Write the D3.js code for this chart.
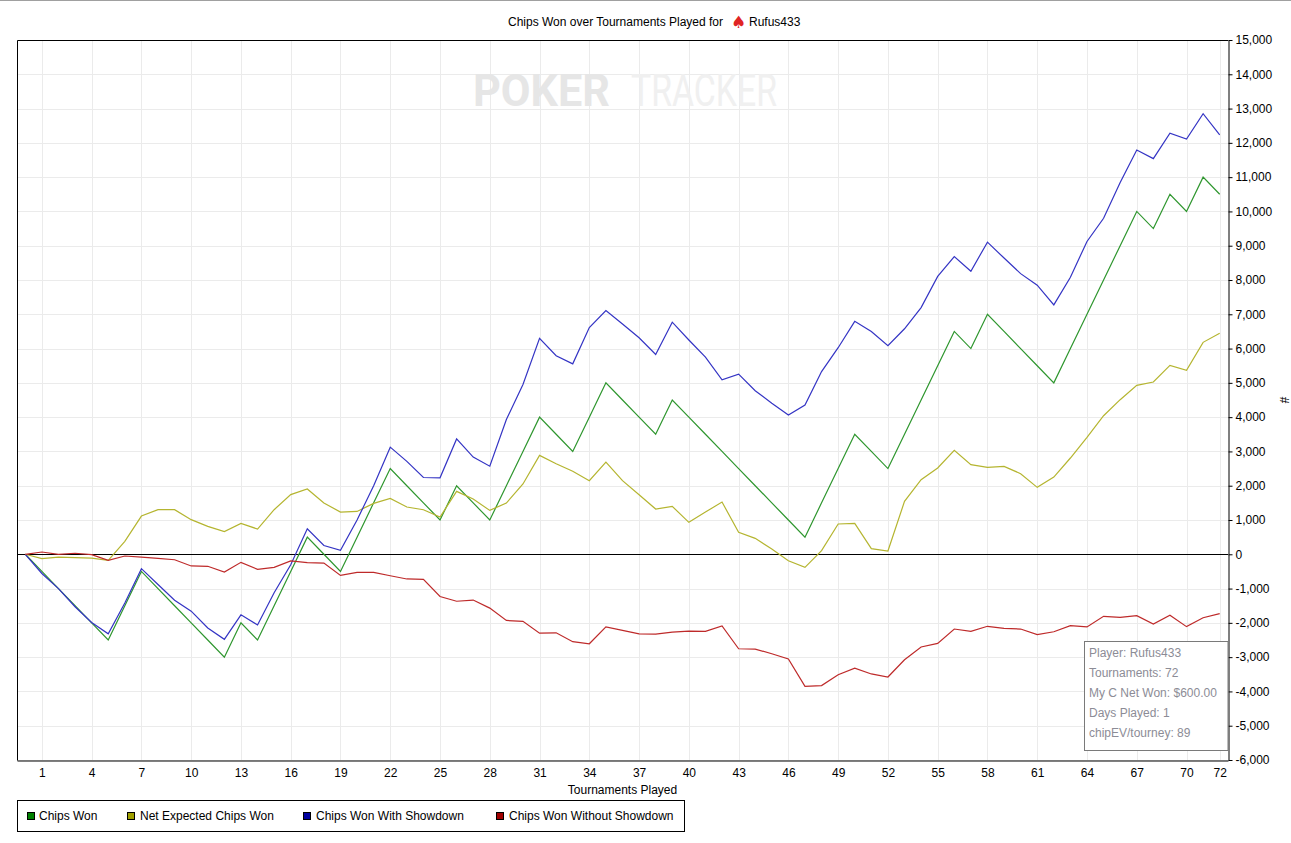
<!DOCTYPE html>
<html>
<head>
<meta charset="utf-8">
<script src="https://cdn.jsdelivr.net/npm/d3@7"></script>
<style>
  body { margin: 0; background: #fff; }
  text { font-family: "Liberation Sans", Arial, sans-serif; }
</style>
</head>
<body>
<div id="chart"></div>
<script>
// tournaments 0..72, one value per tournament (cumulative)
var chipsWon = [0, -500, -1000, -1500, -2000, -2500, -1500, -500, -1000, -1500,
	-2000, -2500, -3000, -2000, -2500, -1500, -500, 500, 0, -500,
	500, 1500, 2500, 2000, 1500, 1000, 2000, 1500, 1000, 2000,
	3000, 4000, 3500, 3000, 4000, 5000, 4500, 4000, 3500, 4500,
	4000, 3500, 3000, 2500, 2000, 1500, 1000, 500, 1500, 2500,
	3500, 3000, 2500, 3500, 4500, 5500, 6500, 6000, 7000, 6500,
	6000, 5500, 5000, 6000, 7000, 8000, 9000, 10000, 9500, 10500,
	10000, 11000, 10500];
var netExpected = [0, -128, -80, -100, -110, -177, 377, 1115, 1300, 1300,
	1010, 815, 660, 900, 737, 1300, 1740, 1905, 1495, 1232,
	1250, 1485, 1630, 1380, 1300, 1087, 1835, 1612, 1280, 1495,
	2050, 2885, 2640, 2420, 2147, 2690, 2147, 1738, 1320, 1398,
	931, 1232, 1524, 640, 465, 154, -187, -381, 105, 883,
	902, 163, 95, 1544, 2176, 2516, 3031, 2613, 2535, 2565,
	2351, 1952, 2253, 2808, 3410, 4042, 4509, 4927, 5024, 5510,
	5365, 6182, 6445];
var withShowdown = [0, -560, -1000, -1530, -1990, -2320, -1420, -420, -880, -1340,
	-1660, -2150, -2480, -1765, -2060, -1120, -305, 745, 255, 115,
	1000, 2000, 3125, 2710, 2240, 2230, 3365, 2835, 2570, 3930,
	4950, 6300, 5790, 5555, 6615, 7110, 6715, 6315, 5830, 6770,
	6250, 5750, 5090, 5255, 4770, 4405, 4060, 4355, 5330, 6025,
	6795, 6495, 6085, 6578, 7195, 8105, 8685, 8255, 9105, 8640,
	8185, 7850, 7275, 8080, 9125, 9800, 10845, 11790, 11540, 12280,
	12110, 12850, 12230];
var withoutShowdown = [0, 66, 0, 30, -10, -177, -50, -80, -120, -160,
	-340, -350, -517, -235, -440, -380, -195, -245, -255, -615,
	-530, -530, -625, -720, -730, -1230, -1370, -1335, -1570, -1930,
	-1955, -2300, -2290, -2550, -2610, -2115, -2220, -2320, -2330, -2270,
	-2240, -2250, -2090, -2755, -2765, -2900, -3055, -3850, -3830, -3515,
	-3320, -3490, -3580, -3075, -2705, -2600, -2180, -2250, -2100, -2160,
	-2180, -2345, -2260, -2080, -2120, -1810, -1840, -1790, -2035, -1780,
	-2110, -1850, -1730];

var xTicks = [1, 4, 7, 10, 13, 16, 19, 22, 25, 28, 31, 34, 37, 40, 43, 46, 49, 52, 55, 58, 61, 64, 67, 70, 72];
var yTicks = [-6000, -5000, -4000, -3000, -2000, -1000, 0, 1000, 2000, 3000, 4000, 5000,
	6000, 7000, 8000, 9000, 10000, 11000, 12000, 13000, 14000, 15000];

var seriesNames = ["Chips Won", "Net Expected Chips Won", "Chips Won With Showdown", "Chips Won Without Showdown"];
var seriesData = [chipsWon, netExpected, withShowdown, withoutShowdown];
var lineColors = ["#2e962e", "#b5b530", "#3434c4", "#be2a2a"];
var legendColors = ["#008000", "#a0a000", "#0000a0", "#a00000"];

var infoLines = ["Player: Rufus433", "Tournaments: 72", "My C Net Won: $600.00", "Days Played: 1", "chipEV/tourney: 89"];

// dimensions
var svgWidth = 1291;
var svgHeight = 843;
var plot = {left: 17, right: 1228, top: 40, bottom: 760};

var svg = d3.select("#chart").append("svg")
	.attr("width", svgWidth)
	.attr("height", svgHeight);

// window border line at top
svg.append("line").attr("x1", 0).attr("x2", svgWidth).attr("y1", 0.5).attr("y2", 0.5)
	.attr("stroke", "#a0a0a0");

var x = d3.scaleLinear().domain([-0.5, 72.5]).range([plot.left, plot.right]);
var y = d3.scaleLinear().domain([-6000, 15000]).range([plot.bottom, plot.top]);

// gridlines
svg.append("g").selectAll("line").data(xTicks).enter().append("line")
	.attr("x1", d => Math.round(x(d)) + 0.5).attr("x2", d => Math.round(x(d)) + 0.5)
	.attr("y1", plot.top).attr("y2", plot.bottom)
	.attr("stroke", "#ebebeb");
svg.append("g").selectAll("line").data(yTicks).enter().append("line")
	.attr("x1", plot.left).attr("x2", plot.right)
	.attr("y1", d => Math.round(y(d)) + 0.5).attr("y2", d => Math.round(y(d)) + 0.5)
	.attr("stroke", "#ebebeb");

// watermark
svg.append("text").attr("x", 473).attr("y", 106)
	.attr("textLength", 137).attr("lengthAdjust", "spacingAndGlyphs")
	.style("font-family", "Roboto, sans-serif").style("font-weight", "bold").style("font-size", "44px")
	.attr("fill", "#e6e6e6").text("POKER");
svg.append("text").attr("x", 631).attr("y", 106)
	.attr("textLength", 146).attr("lengthAdjust", "spacingAndGlyphs")
	.style("font-family", "Roboto, sans-serif").style("font-size", "44px")
	.attr("fill", "#f0f0f0").text("TRACKER");

// zero line
svg.append("line").attr("x1", plot.left).attr("x2", plot.right)
	.attr("y1", Math.round(y(0)) + 0.5).attr("y2", Math.round(y(0)) + 0.5)
	.attr("stroke", "#000");

// series lines
var line = d3.line().x((d, i) => x(i)).y(d => y(d));
svg.append("g").selectAll("path").data(seriesData).enter().append("path")
	.attr("d", d => line(d))
	.attr("fill", "none")
	.attr("stroke", (d, i) => lineColors[i])
	.attr("stroke-width", 1.2);

// frame
svg.append("path")
	.attr("d", "M" + (plot.left + 0.5) + "," + (plot.bottom + 0.5) + "V" + (plot.top + 0.5) + "H" + plot.right)
	.attr("fill", "none").attr("stroke", "#000");

// x axis
var fmt = d3.format(",");
var xAxis = svg.append("g")
	.attr("transform", "translate(0," + (plot.bottom + 0.5) + ")")
	.call(d3.axisBottom(x).tickValues(xTicks).tickSize(0).tickSizeOuter(0).tickPadding(8));
xAxis.selectAll("text").style("font-size", "12px").attr("fill", "#000")
	.style("font-family", "'Liberation Sans', Arial, sans-serif");
xAxis.select(".domain").attr("stroke", "#000");

// y axis on the right
var yAxis = svg.append("g")
	.attr("transform", "translate(" + (plot.right + 0.5) + ",0)")
	.call(d3.axisRight(y).tickValues(yTicks).tickSize(4).tickSizeOuter(0).tickPadding(3)
		.tickFormat(d => fmt(d).replace("\u2212", "-")));
yAxis.selectAll("text").style("font-size", "12px").attr("fill", "#000")
	.style("font-family", "'Liberation Sans', Arial, sans-serif");

// axis titles
svg.append("text").attr("x", (plot.left + plot.right) / 2).attr("y", 794)
	.attr("text-anchor", "middle").style("font-size", "12px").text("Tournaments Played");
svg.append("text").attr("transform", "translate(1280,400) rotate(90)")
	.attr("text-anchor", "middle").style("font-size", "12px").text("#");

// title
var title = svg.append("text").attr("y", 26).style("font-size", "12px");
title.append("tspan").attr("x", 508).text("Chips Won over Tournaments Played for");
title.append("tspan").attr("x", 731).attr("y", 28).attr("fill", "#e02424").style("font-size", "17px")
	.style("font-family", "'DejaVu Sans', sans-serif").text("\u2660");
title.append("tspan").attr("x", 749).attr("y", 26).attr("fill", "#000").style("font-size", "12px").text("Rufus433");

// info box
var info = svg.append("g");
info.append("rect").attr("x", 1084.5).attr("y", 641.5).attr("width", plot.right - 1084.5).attr("height", 109)
	.attr("fill", "#fff").attr("stroke", "#7a7a7a");
info.selectAll("text").data(infoLines).enter().append("text")
	.attr("x", 1089).attr("y", (d, i) => 657 + i * 20)
	.style("font-size", "12px").attr("fill", "#8c8c96")
	.text(d => d);

// legend
var legendSquareX = [27, 127, 303, 496];
var legendTextX = [39, 140, 316, 509];
var legend = svg.append("g");
legend.append("rect").attr("x", 17.5).attr("y", 800.5).attr("width", 667).attr("height", 31)
	.attr("fill", "#fff").attr("stroke", "#000");
legend.selectAll("rect.sw").data(seriesNames).enter().append("rect")
	.attr("class", "sw")
	.attr("x", (d, i) => legendSquareX[i] + 0.5).attr("y", 812.5)
	.attr("width", 7).attr("height", 7)
	.attr("fill", (d, i) => legendColors[i]).attr("stroke", "#000");
legend.selectAll("text").data(seriesNames).enter().append("text")
	.attr("x", (d, i) => legendTextX[i]).attr("y", 820)
	.style("font-size", "12px").text(d => d);
</script>
</body>
</html>
